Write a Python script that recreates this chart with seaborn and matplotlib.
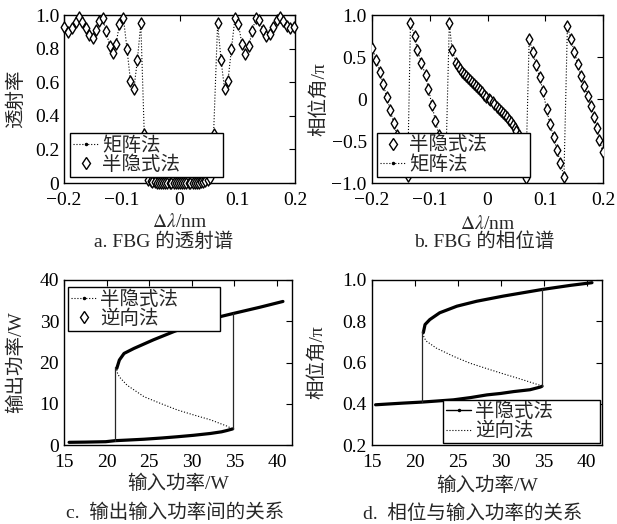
import matplotlib
matplotlib.use("Agg")
import matplotlib.pyplot as plt
from matplotlib.lines import Line2D
import seaborn as sns

# ---------------- data ----------------
# a. FBG transmission spectrum (wavelength detuning in nm, transmittance)
a_x_left = [-0.200, -0.193, -0.186, -0.180, -0.174, -0.168, -0.162, -0.156, -0.150,
            -0.144, -0.139, -0.133, -0.127, -0.121, -0.115, -0.110, -0.104, -0.097,
            -0.091, -0.085, -0.079, -0.073, -0.067, -0.061]
a_t_left = [0.93, 0.90, 0.92, 0.96, 0.99, 0.96, 0.925, 0.88, 0.865,
            0.91, 0.965, 0.98, 0.905, 0.815, 0.775, 0.825, 0.945, 0.98,
            0.80, 0.61, 0.56, 0.73, 0.95, 0.29]
a_x_mid = [-0.054, -0.050, -0.047, -0.043, -0.039, -0.036, -0.032, -0.028, -0.025, -0.021,
           -0.017, -0.014, -0.010, -0.006, -0.003, 0.001, 0.005, 0.008, 0.012, 0.016,
           0.019, 0.023, 0.027, 0.030, 0.034, 0.038, 0.041, 0.045, 0.049, 0.053]
a_t_mid = [0.02, 0.012, 0.006, 0.003, 0.002, 0.001, 0.0, 0.0, 0.0, 0.0,
           0.0, 0.0, 0.0, 0.0, 0.0, 0.0, 0.0, 0.0, 0.0, 0.0,
           0.0, 0.0, 0.0, 0.001, 0.002, 0.003, 0.006, 0.012, 0.02, 0.03]
a_x_right = [0.059, 0.066, 0.072, 0.078, 0.084, 0.090, 0.096, 0.102, 0.108, 0.114,
             0.120, 0.126, 0.132, 0.138, 0.144, 0.150, 0.156, 0.162, 0.168, 0.174,
             0.180, 0.186, 0.192, 0.198]
a_t_right = [0.29, 0.95, 0.73, 0.56, 0.61, 0.80, 0.98, 0.945, 0.83, 0.77,
             0.815, 0.905, 0.98, 0.97, 0.91, 0.875, 0.885, 0.93, 0.97, 0.99,
             0.964, 0.934, 0.925, 0.93]

# b. FBG phase spectrum (phase / pi)
b_x = [-0.199, -0.192, -0.186, -0.180, -0.174, -0.168, -0.162, -0.156, -0.150, -0.144, -0.138,
       -0.133, -0.126, -0.121, -0.114, -0.107, -0.102, -0.096, -0.090, -0.084, -0.078, -0.072,
       -0.066, -0.061, -0.054, -0.051, -0.0475, -0.044, -0.040, -0.037, -0.034, -0.030,
       -0.027, -0.023, -0.020, -0.016, -0.013, -0.009, -0.006, -0.002, 0.002, 0.005,
       0.009, 0.012, 0.016, 0.019, 0.023, 0.026, 0.030, 0.033, 0.037, 0.040, 0.044,
       0.047, 0.050, 0.054, 0.060, 0.066,
       0.072, 0.078, 0.084, 0.090, 0.096, 0.102, 0.108, 0.114, 0.120, 0.126, 0.132,
       0.138, 0.144, 0.150, 0.156, 0.161, 0.167, 0.173, 0.179, 0.184, 0.189, 0.193, 0.199]
b_phase = [0.61, 0.46, 0.325, 0.175, 0.02, -0.13, -0.29, -0.43, -0.57, -0.72, -0.92,
           0.91, 0.75, 0.58, 0.43, 0.28, 0.12, -0.07, -0.26, -0.43, -0.60, -0.78,
           0.90, 0.58, 0.43, 0.39, 0.355, 0.325, 0.295, 0.27, 0.245, 0.225,
           0.20, 0.18, 0.155, 0.13, 0.107, 0.08, 0.05, 0.02, 0.0, -0.015,
           -0.04, -0.065, -0.09, -0.115, -0.14, -0.165, -0.19, -0.215, -0.245, -0.275, -0.31,
           -0.345, -0.38, -0.43, -0.62, -0.944,
           0.72, 0.56, 0.41, 0.26, 0.09, -0.12, -0.30, -0.45, -0.61, -0.76, -0.93,
           0.873, 0.71, 0.563, 0.413, 0.277, 0.16, 0.04, -0.08, -0.22, -0.34, -0.49, -0.627]

# c. output power vs input power (W)
c_low_w = [15.6, 17.5, 19.9, 21.0, 22.5, 24.4, 26.5, 28.3, 30.2, 32.2, 33.5, 34.1, 34.8]
c_low_p = [0.65, 0.7, 0.8, 1.05, 1.2, 1.4, 1.7, 2.0, 2.35, 2.8, 3.2, 3.5, 3.9]
c_mid_w = [34.8, 34.1, 32.2, 30.2, 28.3, 26.3, 24.4, 22.4, 21.5, 21.2]
c_mid_p = [3.9, 4.6, 6.1, 7.3, 8.5, 10.1, 11.7, 14.5, 16.5, 17.8]
c_up_w = [21.2, 21.5, 22.05, 23.2, 25.5, 27.9, 30.2, 33.3, 34.9, 38.0, 40.7]
c_up_p = [18.6, 20.6, 22.2, 23.4, 25.5, 27.5, 29.3, 31.1, 31.9, 33.4, 34.8]
c_jump_up_w = [34.8, 34.8]
c_jump_up_p = [3.9, 31.9]
c_jump_down_w = [21.0, 21.0]
c_jump_down_p = [18.8, 1.05]

# d. phase (/pi) vs input power (W)
d_low_w = [15.45, 17.0, 18.6, 20.8, 22.5, 24.5, 26.5, 28.4, 30.0, 31.5, 33.4, 34.6, 34.8]
d_low_v = [0.395, 0.399, 0.403, 0.408, 0.413, 0.419, 0.43, 0.443, 0.45, 0.459, 0.468, 0.481, 0.485]
d_mid_w = [34.8, 34.6, 32.2, 30.3, 28.4, 26.4, 24.5, 22.5, 21.3, 21.0]
d_mid_v = [0.485, 0.489, 0.521, 0.545, 0.570, 0.597, 0.630, 0.670, 0.705, 0.73]
d_up_w = [21.0, 21.2, 21.75, 22.9, 24.9, 27.2, 30.3, 34.8, 38.1, 40.6]
d_up_v = [0.745, 0.784, 0.808, 0.841, 0.873, 0.897, 0.922, 0.954, 0.974, 0.987]
d_jump_up_w = [34.8, 34.8]
d_jump_up_v = [0.485, 0.954]
d_jump_down_w = [20.9, 20.9]
d_jump_down_v = [0.751, 0.408]

# ---------------- style ----------------
sns.set_style("white")
plt.rcParams["font.family"] = ["Liberation Serif", "Noto Sans CJK SC"]
plt.rcParams["mathtext.fontset"] = "stix"
plt.rcParams["font.size"] = 14
plt.rcParams["axes.edgecolor"] = "black"
plt.rcParams["axes.linewidth"] = 1.0

FS = 14

fig = plt.figure(figsize=(6.17, 5.24), dpi=100)
W, H = 617, 524


def add_ax(left, right, top, bottom):
    return fig.add_axes([left / W, 1 - bottom / H, (right - left) / W, (bottom - top) / H])


ax_a = add_ax(64, 295, 15, 183)
ax_b = add_ax(371.7, 603.3, 15, 183)
ax_c = add_ax(64, 292.3, 280, 445)
ax_d = add_ax(371.7, 602.3, 280, 445)


def style_axes(ax):
    ax.tick_params(direction="in", top=True, right=True, length=4, width=0.8,
                   labelsize=FS, colors="black")
    ax.tick_params(axis="x", pad=6.5)
    ax.tick_params(axis="y", pad=3.5)
    for sp in ax.spines.values():
        sp.set_visible(True)
        sp.set_color("black")
        sp.set_linewidth(1.0)


def make_legend(ax, handles, labels, box):
    leg = ax.legend(handles, labels, loc="lower left", bbox_to_anchor=box, mode="expand",
                    frameon=True, fancybox=False, framealpha=1, edgecolor="black",
                    fontsize=FS, borderpad=0.15, labelspacing=0.05, handlelength=1.3,
                    handletextpad=0.2, borderaxespad=0)
    leg.get_frame().set_linewidth(1.0)
    leg.set_zorder(10)
    return leg


matrix_h = Line2D([], [], color="k", ls=":", lw=0.8, marker=".", ms=3)
diamond_h = Line2D([], [], ls="none", marker="d", mfc="w", mec="k", ms=6, mew=1)

# ---- a ----
a_x = a_x_left + a_x_mid + a_x_right
a_t = a_t_left + a_t_mid + a_t_right
sns.lineplot(x=a_x, y=a_t, ax=ax_a, color="k", lw=0.8, linestyle=":", marker=".",
             markersize=2.5, markeredgecolor="k", sort=False, estimator=None)
sns.scatterplot(x=a_x, y=a_t, ax=ax_a, marker="d", s=32, color="white",
                edgecolor="k", linewidth=1, clip_on=False, zorder=3)
ax_a.set_xlim(-0.2, 0.2)
ax_a.set_ylim(0, 1)
ax_a.set_xticks([-0.2, -0.1, 0, 0.1, 0.2], ["\u22120.2", "\u22120.1", "0", "0.1", "0.2"])
ax_a.set_yticks([0, 0.2, 0.4, 0.6, 0.8, 1.0], ["0", "0.2", "0.4", "0.6", "0.8", "1.0"])
ax_a.set_xlabel(r"$\Delta\lambda$/nm", fontsize=FS)
ax_a.set_ylabel("透射率", fontsize=FS)
style_axes(ax_a)
make_legend(ax_a, [matrix_h, diamond_h], ["矩阵法", "半隐式法"], (0.026, 0.036, 0.662, 0.244))

# ---- b ----
sns.lineplot(x=b_x, y=b_phase, ax=ax_b, color="k", lw=0.8, linestyle=":", marker=".",
             markersize=2.5, markeredgecolor="k", sort=False, estimator=None)
sns.scatterplot(x=b_x, y=b_phase, ax=ax_b, marker="d", s=32, color="white",
                edgecolor="k", linewidth=1, zorder=3)
ax_b.set_xlim(-0.2, 0.2)
ax_b.set_ylim(-1, 1)
ax_b.set_xticks([-0.2, -0.1, 0, 0.1, 0.2], ["\u22120.2", "\u22120.1", "0", "0.1", "0.2"])
ax_b.set_yticks([-1, -0.5, 0, 0.5, 1], ["\u22121.0", "\u22120.5", "0", "0.5", "1.0"])
ax_b.set_xlabel(r"$\Delta\lambda$/nm", fontsize=FS)
ax_b.set_ylabel("相位角/π", fontsize=FS)
style_axes(ax_b)
make_legend(ax_b, [diamond_h, matrix_h], ["半隐式法", "矩阵法"], (0.023, 0.036, 0.66, 0.244))


# ---- c and d : bistable curves ----
def bistable(ax, low_w, low_y, mid_w, mid_y, up_w, up_y, jup_w, jup_y, jdn_w, jdn_y):
    # inverse method: the whole S-curve, dotted
    sns.lineplot(x=low_w + mid_w + up_w, y=low_y + mid_y + up_y, ax=ax, color="k",
                 lw=0.8, linestyle=":", sort=False, estimator=None)
    # semi-implicit method: stable branches plus the two jumps
    for xs, ys in [(low_w, low_y), (up_w, up_y)]:
        sns.lineplot(x=xs, y=ys, ax=ax, color="k", lw=2.3, sort=False, estimator=None)
    for xs, ys in [(jup_w, jup_y), (jdn_w, jdn_y)]:
        sns.lineplot(x=xs, y=ys, ax=ax, color="0.15", lw=0.9, sort=False, estimator=None)


bistable(ax_c, c_low_w, c_low_p, c_mid_w, c_mid_p, c_up_w, c_up_p,
         c_jump_up_w, c_jump_up_p, c_jump_down_w, c_jump_down_p)
ax_c.set_xlim(15, 41.8)
ax_c.set_ylim(0, 40)
ax_c.set_xticks([15, 20, 25, 30, 35, 40])
ax_c.set_yticks([0, 10, 20, 30, 40])
ax_c.set_xlabel("输入功率/W", fontsize=FS)
ax_c.set_ylabel("输出功率/W", fontsize=FS)
style_axes(ax_c)
semi_c_h = Line2D([], [], color="k", ls=":", lw=0.8, marker=".", ms=3)
make_legend(ax_c, [semi_c_h, diamond_h], ["半隐式法", "逆向法"], (0.0175, 0.691, 0.666, 0.2545))

bistable(ax_d, d_low_w, d_low_v, d_mid_w, d_mid_v, d_up_w, d_up_v,
         d_jump_up_w, d_jump_up_v, d_jump_down_w, d_jump_down_v)
ax_d.set_xlim(15, 41.8)
ax_d.set_ylim(0.2, 1.0)
ax_d.set_xticks([15, 20, 25, 30, 35, 40])
ax_d.set_yticks([0.2, 0.4, 0.6, 0.8, 1.0], ["0.2", "0.4", "0.6", "0.8", "1.0"])
ax_d.set_xlabel("输入功率/W", fontsize=FS)
ax_d.set_ylabel("相位角/π", fontsize=FS)
style_axes(ax_d)
semi_d_h = Line2D([], [], color="k", ls="-", lw=1.0, marker=".", ms=3)
inv_d_h = Line2D([], [], color="k", ls=":", lw=0.8)
make_legend(ax_d, [semi_d_h, inv_d_h], ["半隐式法", "逆向法"], (0.31, 0.01, 0.68, 0.267))

# label positions
ax_a.yaxis.set_label_coords(-0.169, 0.5)
ax_b.yaxis.set_label_coords(-0.187, 0.5)
ax_c.yaxis.set_label_coords(-0.171, 0.5)
ax_d.yaxis.set_label_coords(-0.195, 0.5)
ax_a.xaxis.set_label_coords(0.5, -0.18)
ax_b.xaxis.set_label_coords(0.5, -0.19)
ax_c.xaxis.set_label_coords(0.5, -0.18)
ax_d.xaxis.set_label_coords(0.5, -0.19)

# captions
fig.text(164 / W, 1 - 242 / H, "a. FBG 的透射谱", ha="center", va="center", fontsize=FS)
fig.text(484 / W, 1 - 242 / H, "b. FBG 的相位谱", ha="center", va="center", fontsize=FS)
fig.text(175 / W, 1 - 513 / H, "c.  输出输入功率间的关系", ha="center", va="center", fontsize=FS)
fig.text(473 / W, 1 - 514 / H, "d.  相位与输入功率的关系", ha="center", va="center", fontsize=FS)

fig.savefig("out.png", dpi=100, facecolor="white")
